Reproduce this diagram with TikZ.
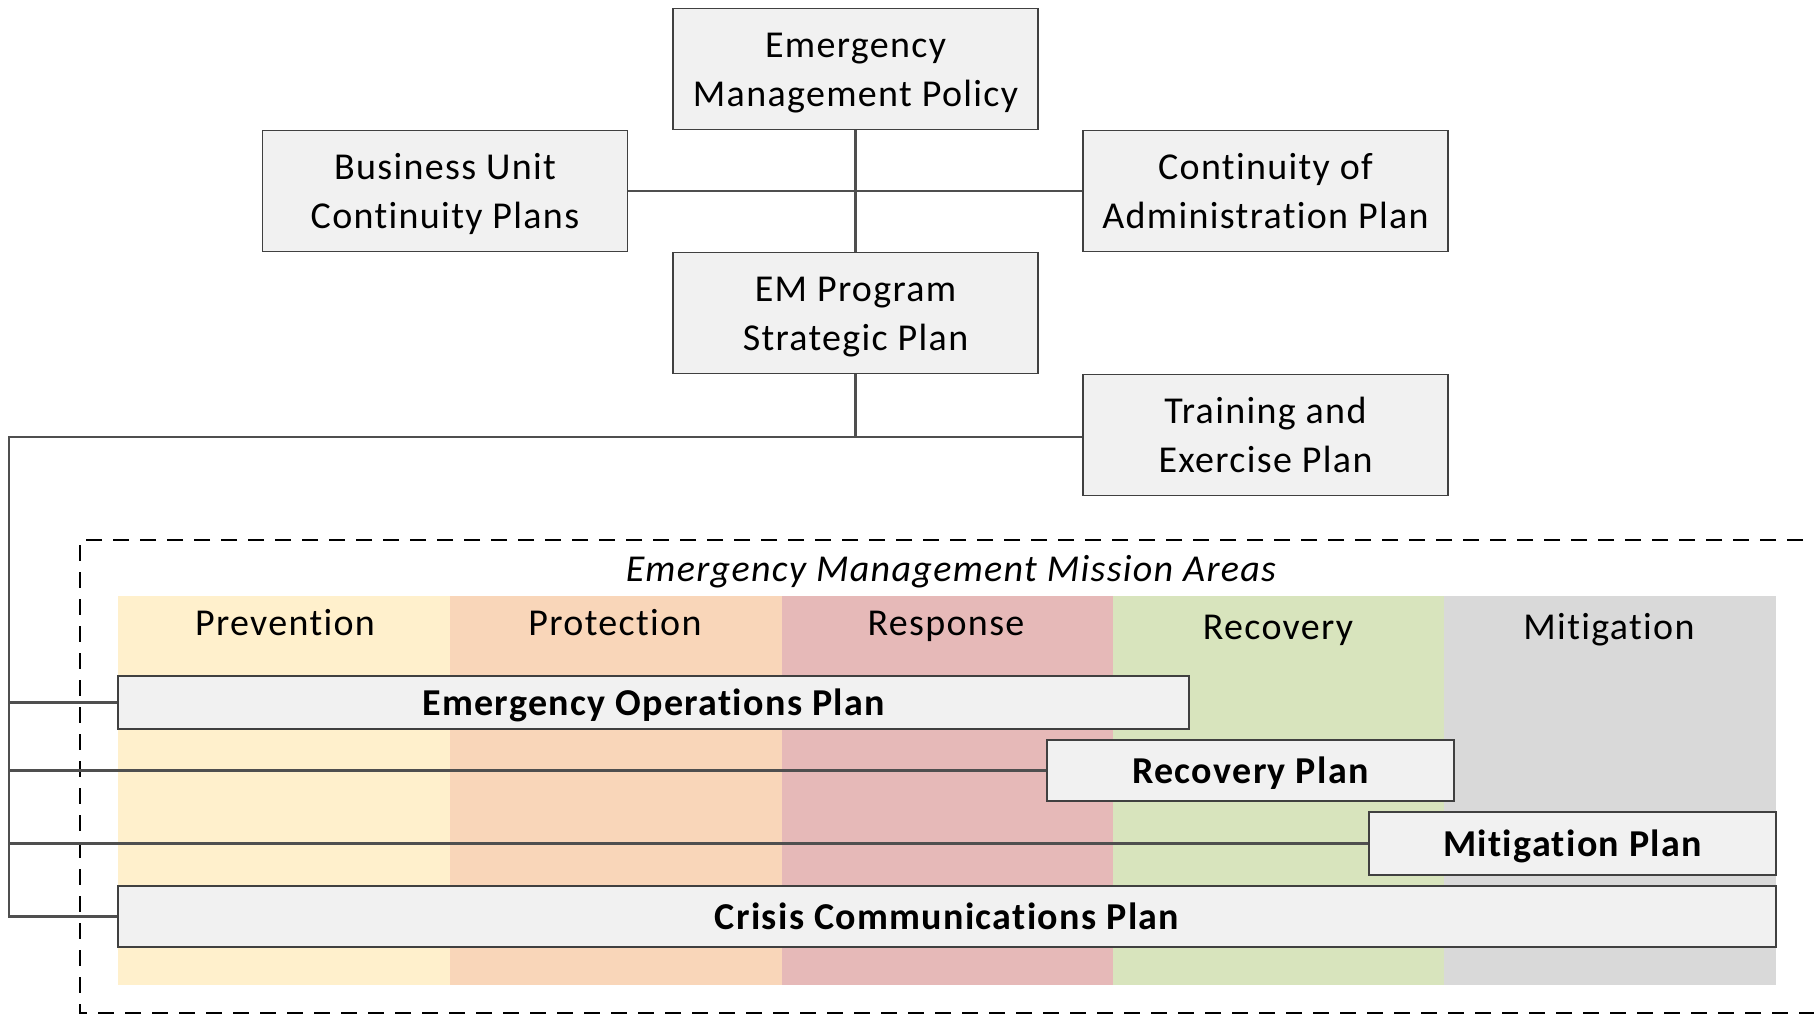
\documentclass[tikz,border=0pt]{standalone}
\usepackage{fontspec}
\setmainfont{Carlito}[Ligatures=NoCommon, LetterSpace=3.5]
\definecolor{prevc}{HTML}{FFF0CC}
\definecolor{protc}{HTML}{F9D6B9}
\definecolor{respc}{HTML}{E6B9B8}
\definecolor{recoc}{HTML}{D8E4BD}
\definecolor{mitic}{HTML}{D9D9D9}
\definecolor{boxfill}{HTML}{F1F1F1}
\definecolor{boxline}{HTML}{404040}
\definecolor{connline}{HTML}{4F4F4F}
\newcommand\boxstrut{\rule[-11.2pt]{0pt}{49pt}}
\newcommand\planstrut{\rule[-10.3pt]{0pt}{46pt}}
\begin{document}
\begin{tikzpicture}[x=1pt,y=-1pt,
  box/.style={draw=boxline, fill=boxfill, line width=1.8pt, minimum width=365pt, minimum height=121pt, align=center, inner sep=0pt, font=\fontsize{38}{49}\selectfont},
  plan/.style={draw=boxline, fill=boxfill, line width=1.8pt, inner sep=0pt, font=\bfseries\fontsize{38}{46}\selectfont},
  conn/.style={draw=connline, line width=2.1pt},
  band/.style={inner sep=0pt, minimum width=332pt, minimum height=389pt, anchor=north west},
  bandlabel/.style={font=\fontsize{38}{46}\selectfont, inner sep=0pt, anchor=base},
]
\clip (0,0) rectangle (1814,1015);
\fill[white] (0,0) rectangle (1814,1015);
% mission area bands
\node[band, fill=prevc] (bprev) at (118,596) {};
\node[band, fill=protc] (bprot) at (450,596) {};
\node[band, fill=respc] (bresp) at (782,596) {};
\node[band, fill=recoc] (breco) at (1113,596) {};
\node[band, fill=mitic] (bmiti) at (1444,596) {};
\node[bandlabel] (lprev) at (285,635) {Prevention};
\node[bandlabel] (lprot) at (615,635) {Protection};
\node[bandlabel] (lresp) at (946,635) {Response};
\node[bandlabel] (lreco) at (1278,639) {Recovery};
\node[bandlabel] (lmiti) at (1609,639) {Mitigation};
% dashed frame
\draw[black, line width=2pt, dash pattern=on 16pt off 11pt] (1830,540) -- (80,540) -- (80,1013) -- (1830,1013);
\node[font=\itshape\fontsize{38}{46}\selectfont, inner sep=0pt] (mission) at (951,569) {\planstrut Emergency Management Mission Areas};
% connectors
\coordinate (trunk) at (9,437);
% top boxes
\node[box] (emp) at (855.5,69) {\boxstrut Emergency\\\boxstrut Management Policy};
\node[box] (bucp) at (445,191) {\boxstrut Business Unit\\\boxstrut Continuity Plans};
\node[box] (coap) at (1265.5,191) {\boxstrut Continuity of\\\boxstrut Administration Plan};
\node[box] (emsp) at (855.5,313) {\boxstrut EM Program\\\boxstrut Strategic Plan};
\node[box] (tep) at (1265.5,435) {\boxstrut Training and\\\boxstrut Exercise Plan};
% plan boxes
\node[plan, minimum width=1071pt, minimum height=53pt] (eop) at (653.5,702.5) {\planstrut Emergency Operations Plan};
\node[plan, minimum width=407pt, minimum height=61pt] (rp) at (1250.5,770.5) {\planstrut Recovery Plan};
\node[plan, minimum width=407pt, minimum height=63pt] (mp) at (1572.5,843.5) {\planstrut Mitigation Plan};
\node[plan, minimum width=1658pt, minimum height=61pt] (ccp) at (947,916.5) {\planstrut Crisis Communications Plan};
% connectors between named nodes
\draw[conn] (emp.south) -- (emsp.north);
\draw[conn] (bucp.east) -- (coap.west);
\draw[conn] (emsp.south) -- (emsp.south |- trunk);
\draw[conn] (tep.west |- trunk) -- (trunk) |- (ccp.west);
\draw[conn] (trunk |- eop.west) -- (eop.west);
\draw[conn] (trunk |- rp.west) -- (rp.west);
\draw[conn] (trunk |- mp.west) -- (mp.west);
\end{tikzpicture}
\end{document}
